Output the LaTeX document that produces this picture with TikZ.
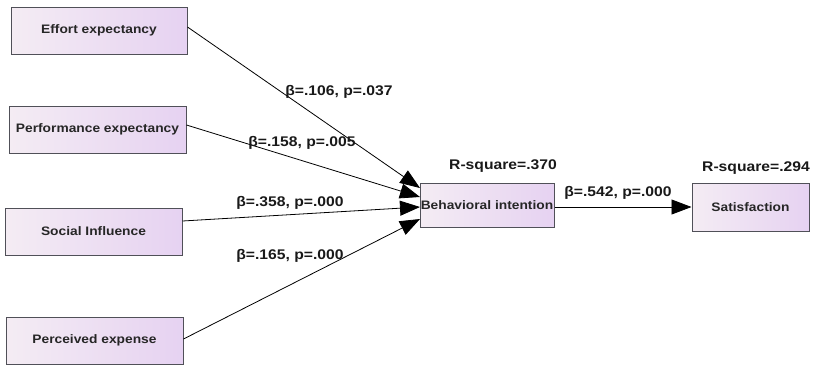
\documentclass[tikz,border=0pt]{standalone}
\usepackage{fontspec}
\setmainfont{Liberation Sans}
\newfontfamily\widefont[FakeStretch=1.12]{Liberation Sans}
\usetikzlibrary{arrows.meta}
\definecolor{boxleft}{HTML}{F4ECF3}
\definecolor{boxright}{HTML}{E6D2F2}
\definecolor{edgegray}{HTML}{505058}
\tikzset{
  var/.style={draw=edgegray, line width=1pt, left color=boxleft, right color=boxright,
    inner sep=0pt, font=\widefont\fontsize{12.3}{14}\selectfont\bfseries, text=black!85},
  path/.style={draw=black, line width=0.8pt, -{Triangle[length=20pt,width=15pt]}},
  lab/.style={font=\widefont\fontsize{14}{16}\selectfont\bfseries, text=black!90, inner sep=0pt}
}
\begin{document}
\begin{tikzpicture}[x=1pt,y=-1pt]
\useasboundingbox (0,0) rectangle (815,365);
\node[var, minimum width=176pt, minimum height=47pt] (ee) at (99,30.5) {Effort expectancy};
\node[var, minimum width=177pt, minimum height=47pt] (pe) at (97.5,129.5) {Performance expectancy};
\node[var, minimum width=177pt, minimum height=47pt] (si) at (93.5,231.5) {Social Influence};
\node[var, minimum width=177pt, minimum height=47pt] (px) at (94.5,340.5) {Perceived expense};
\node[var, minimum width=134pt, minimum height=44pt] (bi) at (487,205) {Behavioral intention};
\node[var, minimum width=117pt, minimum height=48pt] (sa) at (750.5,207) {Satisfaction};

\coordinate (e1) at (420,188);
\coordinate (e2) at (420,197);
\coordinate (e3) at (420,207);
\coordinate (e4) at (420,219);

\draw[path] (ee.east |- 0,27) -- (e1);
\draw[path] (pe.east |- 0,125) -- (e2);
\draw[path] (si.east |- 0,221) -- (e3);
\draw[path] (px.east |- 0,339) -- (e4);
\draw[path] (bi.east |- 0,207) -- (sa.west |- 0,207);

\node[lab] (l1) at (339,92) {β=.106, p=.037};
\node[lab] (l2) at (302,143) {β=.158, p=.005};
\node[lab] (l3) at (290,203) {β=.358, p=.000};
\node[lab] (l4) at (290,256) {β=.165, p=.000};
\node[lab] (l5) at (618,193) {β=.542, p=.000};
\node[lab] (r1) at (503,166) {R-square=.370};
\node[lab] (r2) at (756,168) {R-square=.294};
\end{tikzpicture}
\end{document}
